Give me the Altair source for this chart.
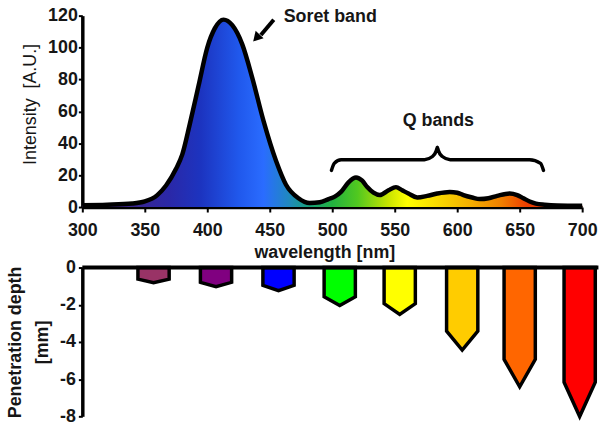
import altair as alt
import pandas as pd

# ---------------- data ----------------
wavelength = [300, 320, 340, 350, 360, 367, 375, 380, 386, 393, 400, 406, 413, 420, 428,
              436, 445, 455, 463, 473, 482, 490, 497, 502, 507, 513, 519, 524, 528, 533,
              538, 545, 551, 556, 561, 568, 576, 584, 594, 600, 605, 612, 618, 625, 632,
              642, 648, 653, 658, 663, 670, 680, 700]
intensity = [1.2, 1.5, 2.2, 3.5, 7.5, 13.5, 24, 33, 52, 76, 100, 112, 117.5, 114, 102,
             81, 54, 29, 14, 5.5, 2.5, 3, 5, 6.5, 9.5, 15.5, 18.5, 16.5, 12.5, 9,
             7.5, 10.5, 12.5, 10.5, 8.5, 6, 7, 8.5, 9.5, 9, 7.5, 6, 5, 5.5, 7,
             8.5, 7.5, 5.5, 3.5, 2.2, 1.5, 1, 0.8]

x_ticks = [300, 350, 400, 450, 500, 550, 600, 650, 700]
y_ticks = [0, 20, 40, 60, 80, 100, 120]

bar_ids = ["b1", "b2", "b3", "b4", "b5", "b6", "b7", "b8"]
bar_center = [357, 407, 457, 506, 554, 604, 650, 698]
depth = [0.81, 1.03, 1.24, 2.04, 2.52, 4.44, 6.41, 8.01]
bar_colors = ["#993366", "#800080", "#0000ff", "#00ff00", "#ffff00", "#ffcc00", "#ff6600", "#ff0000"]
depth_ticks = [0, -2, -4, -6, -8]

# gradient stops (wavelength -> colour)
grad_nm = [300, 340, 370, 395, 425, 445, 465, 480, 500, 520, 545, 560, 585, 610, 635, 655, 700]
grad_colors = ["#4a2080", "#3a2590", "#2a28a8", "#1c34c0", "#2058ec", "#2a6cff", "#2088c0",
               "#18a080", "#22b040", "#50c820", "#c8e400", "#ffff00", "#f8d800", "#f4b000",
               "#f08000", "#ee4000", "#e02000"]

# annotations (data units)
brace_x = [499.4, 501.6, 507.1, 573.8, 580.2, 583.3, 584.1, 584.9, 588.1, 594.4, 657.9, 666.7, 669.0]
brace_y = [23.0, 27.4, 29.7, 29.7, 31.7, 35.4, 37.5, 35.4, 31.7, 29.7, 29.7, 27.4, 23.0]
arrow_tail = (453.2, 117.4)
arrow_end = (442.9, 107.9)
arrow_head = (439.3, 106.0)

FONT = "Liberation Sans"
TXT = "#161616"
HALF = 12.5       # half bar width (nm)
SHOULDER = 0.77   # where the arrow point starts

# ---------------- top panel ----------------
spec_df = pd.DataFrame({"x": wavelength, "y": intensity})

xs = alt.Scale(domain=[300, 700], nice=False, zero=False)
ys = alt.Scale(domain=[0, 120], nice=False)

x_top = alt.X("x:Q", scale=xs, axis=alt.Axis(
    values=x_ticks, title="wavelength [nm]", tickSize=5, labelPadding=10,
    titleX=244, titleY=51, titleBaseline="alphabetic", titleAlign="center",
    titleFontWeight="bold", titleFontSize=18))
y_top = alt.Y("y:Q", scale=ys, axis=alt.Axis(
    values=y_ticks, title="Intensity\u00a0 [A.U.]", tickSize=4, labelPadding=1,
    titleX=-52, titleY=89, titleAngle=-90, titleAlign="center", titleBaseline="middle",
    titleFontWeight="normal", titleFontSize=18))

grad = alt.LinearGradient(
    gradient="linear",
    stops=[alt.GradientStop(color=c, offset=(w - 300) / 400) for w, c in zip(grad_nm, grad_colors)],
    x1=0, x2=1, y1=0, y2=0)

area = alt.Chart(spec_df).mark_area(color=grad, interpolate="monotone").encode(x=x_top, y=y_top)
line = alt.Chart(spec_df).mark_line(color="black", strokeWidth=4.5, interpolate="monotone").encode(
    x=x_top, y=y_top)

brace_df = pd.DataFrame({"x": brace_x, "y": brace_y})
brace = alt.Chart(brace_df).mark_line(color="black", strokeWidth=3.5, interpolate="monotone",
                                      strokeCap="round").encode(x=x_top, y=y_top)

shaft_df = pd.DataFrame({"x": [arrow_tail[0]], "y": [arrow_tail[1]],
                         "x2": [arrow_end[0]], "y2": [arrow_end[1]]})
shaft = alt.Chart(shaft_df).mark_rule(color="black", strokeWidth=4).encode(
    x=x_top, y=y_top, x2="x2:Q", y2="y2:Q")
head_df = pd.DataFrame({"x": [arrow_head[0]], "y": [arrow_head[1]]})
head = alt.Chart(head_df).mark_point(shape="triangle-up", filled=True, color="black",
                                     size=120, angle=223, opacity=1).encode(x=x_top, y=y_top)

soret_df = pd.DataFrame({"x": [461.1], "y": [119.4], "t": ["Soret band"]})
soret = alt.Chart(soret_df).mark_text(align="left", baseline="middle", font=FONT, fontSize=18,
                                      fontWeight="bold", color=TXT).encode(x=x_top, y=y_top, text="t:N")
q_df = pd.DataFrame({"x": [584.9], "y": [54.1], "t": ["Q bands"]})
qb = alt.Chart(q_df).mark_text(align="center", baseline="middle", font=FONT, fontSize=18,
                               fontWeight="bold", color=TXT).encode(x=x_top, y=y_top, text="t:N")

top = alt.layer(area, line, brace, shaft, head, soret, qb).properties(width=504, height=193)

# ---------------- bottom panel ----------------
rows = []
for b, c, d in zip(bar_ids, bar_center, depth):
    rows.append({"bar": b, "x": c - HALF, "y": -d * SHOULDER, "y0": 0})
    rows.append({"bar": b, "x": c, "y": -d, "y0": 0})
    rows.append({"bar": b, "x": c + HALF, "y": -d * SHOULDER, "y0": 0})
bar_df = pd.DataFrame(rows)

bxs = alt.Scale(domain=[300, 700], nice=False, zero=False)
bys = alt.Scale(domain=[-8, 0], nice=False)

x_bot = alt.X("x:Q", scale=bxs, axis=None)
y_bot = alt.Y("y:Q", scale=bys, axis=alt.Axis(
    values=depth_ticks, labelExpr="'' + datum.value", tickSize=4, labelPadding=3,
    title=["Penetration depth", "[mm]"], titleX=-67, titleY=75, titleAngle=-90,
    titleAlign="center", titleBaseline="middle", titleLineHeight=27,
    titleFontWeight="bold", titleFontSize=18))

bars = alt.Chart(bar_df).mark_area(stroke="black", strokeWidth=3.5, strokeJoin="miter",
                                   interpolate="linear", fillOpacity=1).encode(
    x=x_bot, y=y_bot, y2="y0:Q",
    fill=alt.Fill("bar:N", scale=alt.Scale(domain=bar_ids, range=bar_colors), legend=None),
    detail="bar:N")

rule_df = pd.DataFrame({"x": [300], "x2": [713], "y": [0]})
base_rule = alt.Chart(rule_df).mark_rule(color="black", strokeWidth=4).encode(
    x=x_bot, x2="x2:Q", y=y_bot)

bottom = alt.layer(bars, base_rule).properties(width=504, height=150)

chart = alt.vconcat(top, bottom, spacing=61, bounds="flush").properties(
    padding={"left": 6, "top": 5, "right": 0, "bottom": 0}
).configure_view(stroke=None).configure_axis(
    domainColor="black", domainWidth=3.5, tickColor="black", tickWidth=2, grid=False,
    labelFlush=False, labelOverlap=False,
    labelFont=FONT, labelFontSize=18, labelFontWeight="bold", labelColor=TXT,
    titleFont=FONT, titleColor=TXT
)

chart.save("out.html", embed_options={"renderer": "svg", "actions": False})
